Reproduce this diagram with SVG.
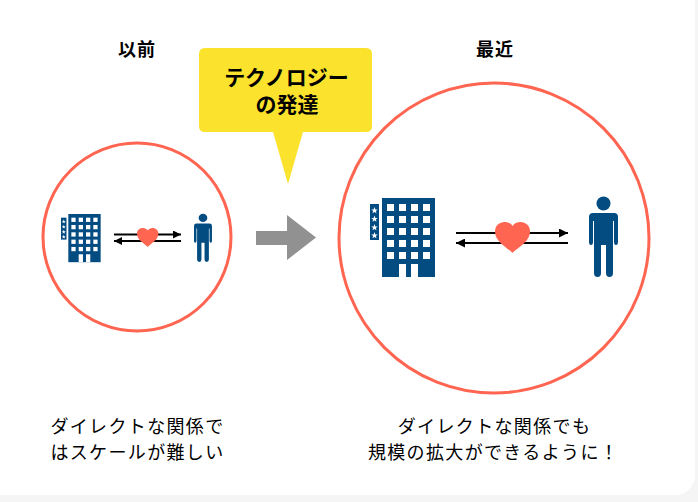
<svg xmlns="http://www.w3.org/2000/svg" width="698" height="502" viewBox="0 0 698 502">
<style>
text{font-family:"Noto Sans CJK JP","Noto Sans",sans-serif;fill:#000;text-anchor:middle}
.h{font-size:18px;font-weight:700;letter-spacing:1px}
.c{font-size:21px;font-weight:700}
.l{font-size:18px;letter-spacing:1.350px}
.ring{fill:#fff;stroke:#ff6550;stroke-width:3}
.navy{fill:#034c82}
.w{fill:#fff}
.line{stroke:#000;stroke-width:2;fill:none}
.heart{fill:#ff6550}
</style>
<defs>
<g id="building">
<rect class="navy" x="0" y="6" width="9" height="36"/>
<g class="w"><polygon points="4.500,9 5.400,11.400 7.700,11.400 5.900,12.900 6.500,15.200 4.500,13.900 2.500,15.200 3.100,12.900 1.300,11.400 3.600,11.400"/><polygon points="4.500,17.500 5.400,19.900 7.700,19.900 5.900,21.400 6.500,23.700 4.500,22.400 2.500,23.700 3.100,21.400 1.300,19.900 3.600,19.900"/><polygon points="4.500,26 5.400,28.400 7.700,28.400 5.900,29.900 6.500,32.200 4.500,30.900 2.500,32.200 3.100,29.900 1.300,28.400 3.600,28.400"/><polygon points="4.500,34 5.400,36.400 7.700,36.400 5.900,37.900 6.500,40.200 4.500,38.900 2.500,40.200 3.100,37.900 1.300,36.400 3.600,36.400"/></g>
<rect class="navy" x="12" y="0" width="53" height="79"/>
<g class="w">
<rect x="17" y="6" width="7" height="7"/><rect x="29" y="6" width="7" height="7"/><rect x="41" y="6" width="7" height="7"/><rect x="53" y="6" width="7" height="7"/>
<rect x="17" y="18" width="7" height="7"/><rect x="29" y="18" width="7" height="7"/><rect x="41" y="18" width="7" height="7"/><rect x="53" y="18" width="7" height="7"/>
<rect x="17" y="30" width="7" height="7"/><rect x="29" y="30" width="7" height="7"/><rect x="41" y="30" width="7" height="7"/><rect x="53" y="30" width="7" height="7"/>
<rect x="17" y="42" width="7" height="7"/><rect x="29" y="42" width="7" height="7"/><rect x="41" y="42" width="7" height="7"/><rect x="53" y="42" width="7" height="7"/>
<rect x="17" y="54" width="7" height="7"/><rect x="29" y="54" width="7" height="7"/><rect x="41" y="54" width="7" height="7"/><rect x="53" y="54" width="7" height="7"/>
<rect x="29" y="66" width="7" height="13"/><rect x="41" y="66" width="7" height="13"/>
</g>
</g>
<g id="person" class="navy">
<circle cx="14.500" cy="6.500" r="7"/>
<path d="M4 16H25Q29 16 29 20V45Q29 48 27 48T25 45V24H24V76Q24 80 20.500 80T17 76V48H12V76Q12 80 8.500 80T5 76V24H4V45Q4 48 2 48T0 45V20Q0 16 4 16Z"/>
</g>
<path id="heart" d="M17.500 31 C13 26 0 20 0 9.500 C0 3.500 4.500 0 9.500 0 C13 0 16 1.500 17.500 4 C19 1.500 22 0 25.500 0 C30.500 0 35 3.500 35 9.500 C35 20 22 26 17.500 31Z"/>
<marker id="ah" markerUnits="userSpaceOnUse" markerWidth="9" markerHeight="9" refX="9" refY="4.500" orient="auto"><path d="M0 0L9 4.500L0 9Z" fill="#000"/></marker>
<marker id="as" markerUnits="userSpaceOnUse" markerWidth="8" markerHeight="8" refX="8" refY="4" orient="auto"><path d="M0 0L8 4L0 8Z" fill="#000"/></marker>
</defs>
<rect width="698" height="502" fill="#f5f5f5"/>
<rect x="-30" y="-30" width="725" height="525" rx="20" fill="#fff"/>
<g id="before">
<text class="h" x="137" y="56">以前</text>
<circle class="ring" cx="137" cy="237" r="94"/>
<g id="before-hotel"><use href="#building" transform="translate(61 214) scale(.61)"/></g>
<g id="before-person"><use href="#person" transform="translate(194 214) scale(.62 .6)"/></g>
</g>
<g id="after">
<text class="h" x="495" y="56">最近</text>
<circle class="ring" cx="494" cy="238" r="155"/>
<g id="after-hotel"><use href="#building" transform="translate(370 198)"/></g>
<g id="after-person"><use href="#person" transform="translate(589 197)"/></g>
</g>
<g id="connectors">
<path class="line" d="M114 234.500H181" marker-end="url(#as)"/>
<path class="line" d="M181 241H114" marker-end="url(#as)"/>
<path class="line" d="M456 233H568" marker-end="url(#ah)"/>
<path class="line" d="M568 243H456" marker-end="url(#ah)"/>
</g>
<g id="hearts">
<use class="heart" href="#heart" transform="translate(137 228) scale(.61)"/>
<use class="heart" href="#heart" transform="translate(495 222)"/>
</g>
<g id="transition">
<path fill="#919191" d="M256 231H287V215L316 237.500L287 260V245H256Z"/>
</g>
<g id="callout">
<path fill="#fae22d" d="M205 48H366Q372 48 372 54V126Q372 132 366 132H303L288 184L273 132H205Q199 132 199 126V54Q199 48 205 48Z"/>
<text class="c"><tspan x="286.500" y="85">テクノロジー</tspan><tspan x="287" y="112">の発達</tspan></text>
</g>
<g id="captions">
<text class="l" x="137.500" y="433">ダイレクトな関係で</text>
<text class="l" x="137.500" y="459">はスケールが難しい</text>
<text class="l" x="494.500" y="433">ダイレクトな関係でも</text>
<text class="l" x="493.500" y="459">規模の拡大ができるように！</text>
</g>
</svg>
